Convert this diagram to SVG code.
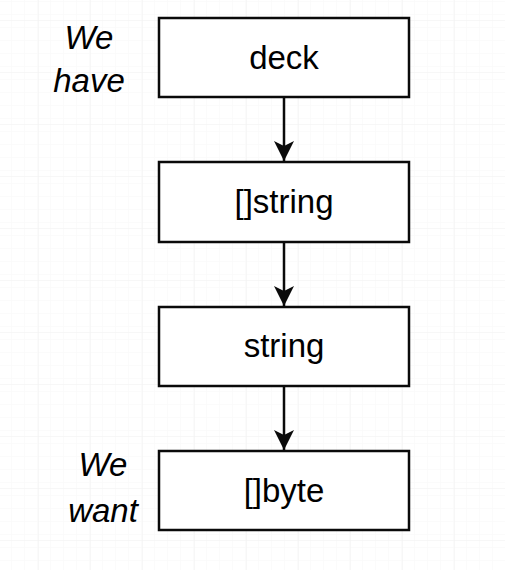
<svg xmlns="http://www.w3.org/2000/svg" width="505" height="570" viewBox="0 0 505 570">
<style>
.box{fill:#fff;stroke:#0a0a0a;stroke-width:2.5}
.lbl{font-family:"Liberation Sans",Arial,sans-serif;font-size:33px;fill:#000;text-anchor:middle}
.side{font-family:"Liberation Sans",Arial,sans-serif;font-size:33px;font-style:italic;fill:#000;text-anchor:middle}
.edge{stroke:#0a0a0a;stroke-width:2.5;fill:none}
</style>
<defs>
<pattern id="minor" x="38" y="20" width="13" height="13" patternUnits="userSpaceOnUse">
<path d="M0 0H13M0 0V13" stroke="#f7f7f7" stroke-width="1" fill="none"/>
</pattern>
<pattern id="major" x="38" y="20" width="52" height="52" patternUnits="userSpaceOnUse">
<rect width="52" height="52" fill="url(#minor)"/>
<path d="M0 0H52M0 0V52" stroke="#efefef" stroke-width="1" fill="none"/>
</pattern>
<marker id="arr" viewBox="0 0 20 20" refX="20" refY="10" markerWidth="20" markerHeight="20" markerUnits="userSpaceOnUse" orient="auto">
<path d="M0 0L20 10L0 20L5 10Z" fill="#0a0a0a"/>
</marker>
</defs>
<rect width="505" height="570" fill="#fff"/>
<rect width="505" height="570" fill="url(#major)"/>
<g id="connectors">
<path class="edge" d="M284 97V161" marker-end="url(#arr)"/>
<path class="edge" d="M284 242V306" marker-end="url(#arr)"/>
<path class="edge" d="M284 386V450" marker-end="url(#arr)"/>
</g>
<g id="deck"><rect class="box" x="159" y="18" width="250" height="79"/><text class="lbl" x="284" y="69">deck</text></g>
<g id="stringslice"><rect class="box" x="159" y="162" width="250" height="80"/><text class="lbl" x="284" y="213">[]string</text></g>
<g id="string"><rect class="box" x="159" y="307" width="250" height="79"/><text class="lbl" x="284" y="357">string</text></g>
<g id="byteslice"><rect class="box" x="159" y="451" width="250" height="79"/><text class="lbl" x="284" y="502">[]byte</text></g>
<g id="we-have"><text class="side" x="89" y="49">We</text><text class="side" x="89" y="92">have</text></g>
<g id="we-want"><text class="side" x="103" y="476">We</text><text class="side" x="103" y="522">want</text></g>
</svg>
